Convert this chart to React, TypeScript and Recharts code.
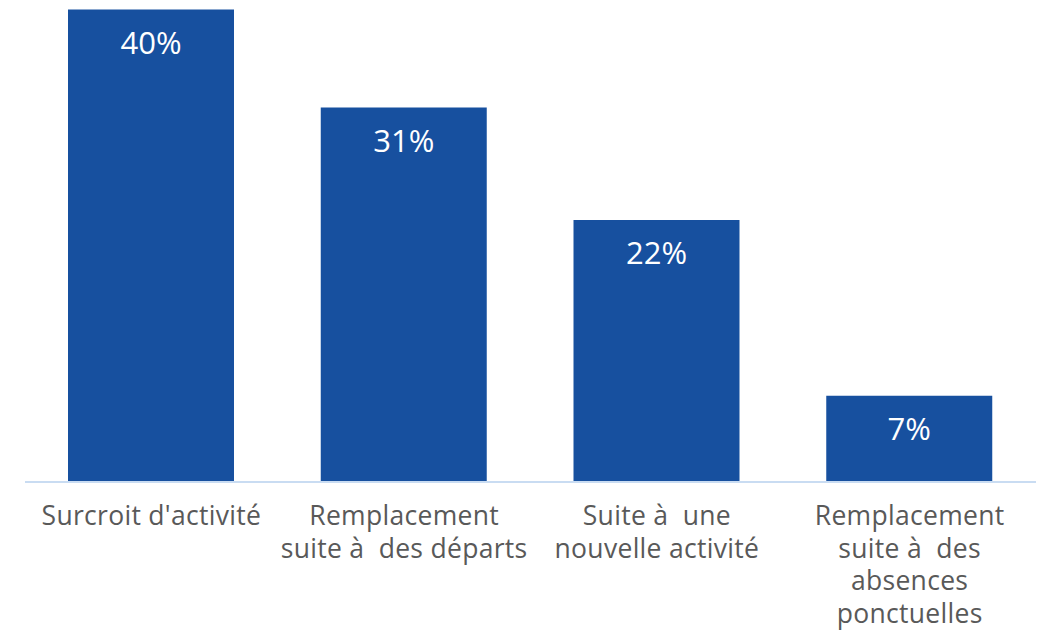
import React from "react";
import { BarChart, Bar, XAxis, YAxis, LabelList } from "recharts";

const categories = [
  "Surcroit d'activité",
  "Remplacement suite à des départs",
  "Suite à une nouvelle activité",
  "Remplacement suite à des absences ponctuelles",
];
const tickLines = [
  ["Surcroit d'activité"],
  ["Remplacement", "suite à  des départs"],
  ["Suite à  une", "nouvelle activité"],
  ["Remplacement", "suite à  des", "absences", "ponctuelles"],
];
const values = [39.5, 31.3, 21.9, 7.2];
const valueLabels = ["40%", "31%", "22%", "7%"];

const data = categories.map((c, i) => ({ name: c, value: values[i], label: valueLabels[i] }));

const FONT = "'Open Sans', Lato, sans-serif";

const Tick = (props: any) => {
  const { x, y, index } = props;
  const lines = tickLines[index] || [];
  return (
    <g>
      {lines.map((l, i) => (
        <text
          key={i}
          x={x}
          y={y + 43 + i * 32.7}
          textAnchor="middle"
          fill="#595959"
          fontSize={26.5}
          letterSpacing={0.3}
          fontFamily={FONT}
          style={{ whiteSpace: "pre" }}
        >
          {l}
        </text>
      ))}
    </g>
  );
};

export default function App() {
  return (
    <div style={{ position: "absolute", left: 0, top: 0, width: 1038, height: 642, background: "#fff" }}>
      <BarChart
        width={1038}
        height={642}
        data={data}
        margin={{ top: 9.5, right: 2, left: 25, bottom: 0 }}
        barSize={166}
      >
        <XAxis
          dataKey="name"
          height={160}
          axisLine={{ stroke: "#C9DCF2", strokeWidth: 2 }}
          tickLine={false}
          tickSize={0}
          tickMargin={0}
          interval={0}
          tick={<Tick />}
        />
        <YAxis hide domain={[0, 39.5]} />
        <Bar dataKey="value" fill="#17509F" isAnimationActive={false}>
          <LabelList
            dataKey="label"
            position="insideTop"
            offset={22}
            fill="#ffffff"
            fontSize={31}
            fontFamily={FONT}
          />
        </Bar>
      </BarChart>
    </div>
  );
}
